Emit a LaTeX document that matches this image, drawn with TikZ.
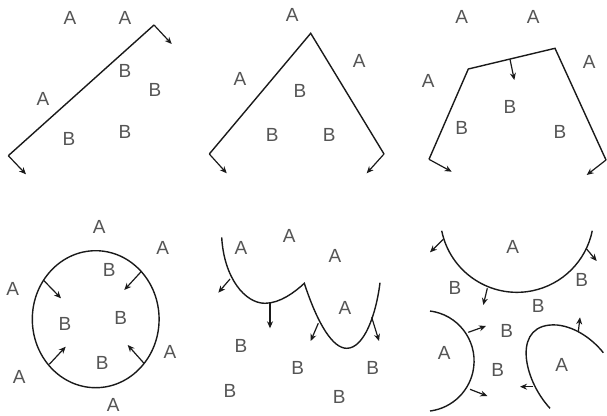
\documentclass[tikz,border=0pt]{standalone}
\usepackage{fontspec}
\setmainfont{Liberation Sans}
\usetikzlibrary{arrows.meta}
\definecolor{lbl}{HTML}{555555}
\definecolor{ink}{HTML}{1A1A1A}
\tikzset{
  bound/.style={draw=ink,line width=1.4pt,line join=miter},
  norm/.style={draw=ink,line width=1.2pt,-{Stealth[length=7pt,width=6pt]}},
  lab/.style={text=lbl,font=\fontsize{19}{19}\selectfont,inner sep=0pt}
}
\begin{document}
\begin{tikzpicture}[x=1pt,y=-1pt]
\useasboundingbox (0,0) rectangle (607,415);
% ---------- panel 1
\draw[bound] (8.3,155.7) -- (154,25);
\draw[norm] (154,25) -- (171.7,44);
\draw[norm] (8.3,155.7) -- (26,174.3);
\node[lab] (p1a1) at (70,18) {A};
\node[lab] (p1a2) at (125,18) {A};
\node[lab] (p1a3) at (43,99) {A};
\node[lab] (p1b1) at (125,71) {B};
\node[lab] (p1b2) at (155,90) {B};
\node[lab] (p1b3) at (69,139) {B};
\node[lab] (p1b4) at (125,132) {B};
% ---------- panel 2
\draw[bound] (209.3,154) -- (310.7,33.3) -- (384,154);
\draw[norm] (209.3,154) -- (226.7,173.3);
\draw[norm] (384,154) -- (366.7,173.3);
\node[lab] (p2a1) at (292.3,15) {A};
\node[lab] (p2a2) at (359.3,61) {A};
\node[lab] (p2a3) at (240,79) {A};
\node[lab] (p2b1) at (300,90.7) {B};
\node[lab] (p2b2) at (272.3,135) {B};
\node[lab] (p2b3) at (329.3,135) {B};
% ---------- panel 3
\draw[bound] (429,159.3) -- (468.3,69) -- (555,48.3) -- (606,160);
\draw[norm] (429,159.3) -- (451.7,171.7);
\draw[norm] (606,160) -- (586.7,175);
\draw[norm] (510,59.3) -- (514.3,80);
\node[lab] (p3a1) at (461.7,16.7) {A};
\node[lab] (p3a2) at (533.3,16.7) {A};
\node[lab] (p3a3) at (589.3,61.7) {A};
\node[lab] (p3a4) at (428.3,81) {A};
\node[lab] (p3b1) at (510,106.7) {B};
\node[lab] (p3b2) at (461.7,127.7) {B};
\node[lab] (p3b3) at (560,131.7) {B};
% ---------- panel 4
\draw[bound] (95.7,319.2) ellipse [x radius=63.4, y radius=68.5];
\draw[norm] (43.3,280) -- (61,298.3);
\draw[norm] (141.7,271) -- (124.3,290);
\draw[norm] (49.3,364.3) -- (65.7,346.7);
\draw[norm] (144,363.3) -- (127.7,345);
\node[lab] (p4a1) at (99.3,227.3) {A};
\node[lab] (p4a2) at (162.7,248.3) {A};
\node[lab] (p4a3) at (12.7,289.3) {A};
\node[lab] (p4a4) at (170,351.7) {A};
\node[lab] (p4a5) at (19.3,376.7) {A};
\node[lab] (p4a6) at (113.3,405) {A};
\node[lab] (p4b1) at (109.3,270) {B};
\node[lab] (p4b2) at (65,324) {B};
\node[lab] (p4b3) at (120.7,318.3) {B};
\node[lab] (p4b4) at (102.3,363.3) {B};
% ---------- panel 5
\draw[bound] (221.7,237.3) .. controls (224,278) and (245,303.3) .. (265,303.3)
  .. controls (280,303.3) and (295,292) .. (304.3,283.3)
  .. controls (318,325) and (333,348.3) .. (346.7,348.3)
  .. controls (364,348.3) and (376,315) .. (380,282.7);
\draw[norm] (230,279) -- (218.3,292.7);
\draw[norm] (270,303.3) -- (270,328.3);
\draw[norm] (318.3,323.3) -- (310.7,341);
\draw[norm] (371.7,317.3) -- (379,341);
\node[lab] (p5a1) at (241,248.3) {A};
\node[lab] (p5a2) at (289.3,236) {A};
\node[lab] (p5a3) at (335,256) {A};
\node[lab] (p5a4) at (345,308.3) {A};
\node[lab] (p5b1) at (241,345.7) {B};
\node[lab] (p5b2) at (297.7,368.3) {B};
\node[lab] (p5b3) at (372.7,368.3) {B};
\node[lab] (p5b4) at (230,390.7) {B};
\node[lab] (p5b5) at (339.3,396.7) {B};
% ---------- panel 6
\draw[bound] (441.7,230.7) arc[start angle=168.6, end angle=11.4, radius=76.8];
\draw[norm] (443.3,239.3) -- (430,252.3);
\draw[norm] (586,248.3) -- (596.7,261);
\draw[norm] (487.3,288.3) -- (483.3,305);
\draw[bound] (430,311) arc[start angle=-82.8, end angle=82.8, radius=50.4];
\draw[norm] (468.3,332.3) -- (486,326);
\draw[norm] (470,389.3) -- (487.3,396);
\draw[bound] (550,408.3) .. controls (522,378) and (512,322) .. (557,325)
  .. controls (577,327) and (594,341) .. (603.3,352.7);
\draw[norm] (578.3,331.7) -- (580,317.3);
\draw[norm] (533.3,386.7) -- (520,386.7);
\node[lab] (p6a1) at (512.7,246.7) {A};
\node[lab] (p6a2) at (444.3,352.7) {A};
\node[lab] (p6a3) at (561.7,365) {A};
\node[lab] (p6b1) at (455,288.3) {B};
\node[lab] (p6b2) at (581.7,280) {B};
\node[lab] (p6b3) at (538.3,306) {B};
\node[lab] (p6b4) at (506.7,330.7) {B};
\node[lab] (p6b5) at (497.7,370) {B};
\end{tikzpicture}
\end{document}
